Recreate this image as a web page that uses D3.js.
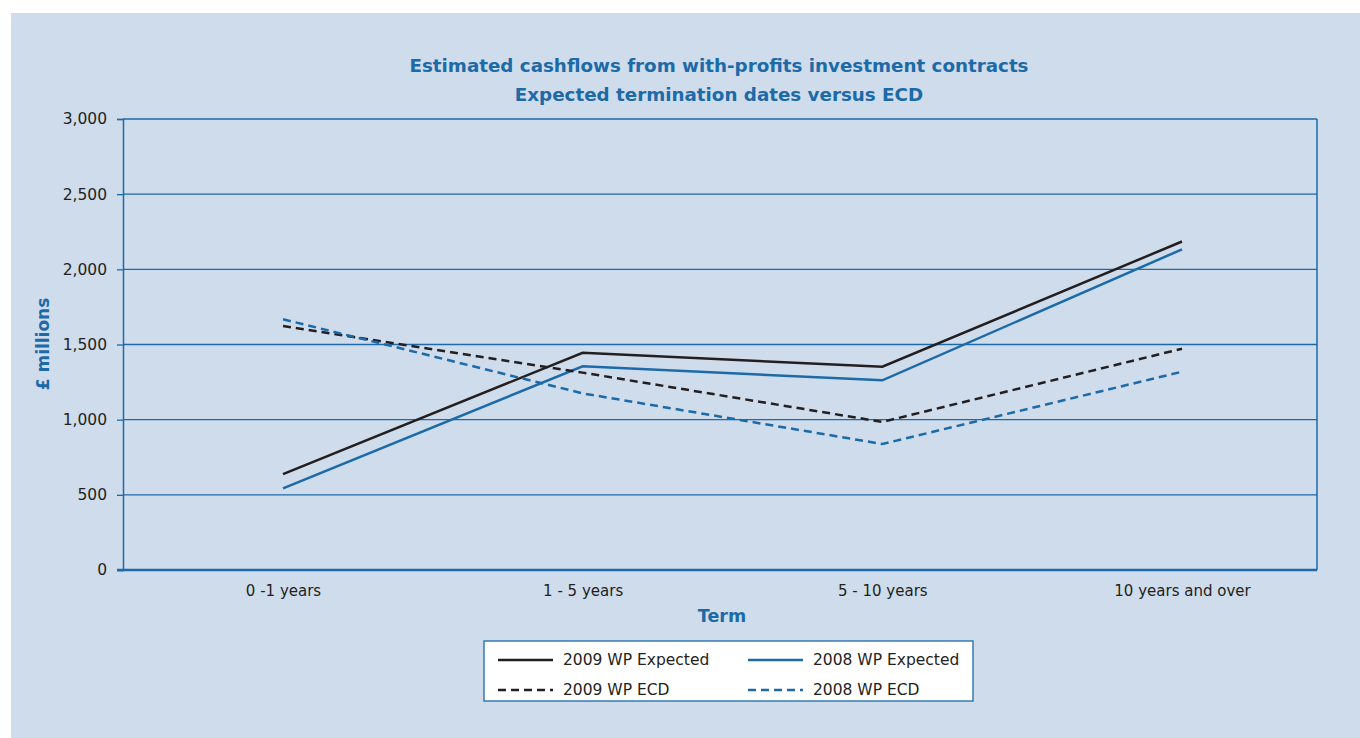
<!DOCTYPE html>
<html>
<head>
<meta charset="utf-8">
<script src="https://cdn.jsdelivr.net/npm/d3@7"></script>
<style>
  body { margin: 0; background: #ffffff; }
  svg { display: block; font-family: "DejaVu Sans", Verdana, sans-serif; }
</style>
</head>
<body>
<div id="chart"></div>
<script>
// categories and series
var terms = ["0 -1 years", "1 - 5 years", "5 - 10 years", "10 years and over"];
var wp2009Expected = [638, 1445, 1352, 2185];
var wp2008Expected = [543, 1355, 1262, 2133];
var wp2009ECD = [1623, 1313, 985, 1472];
var wp2008ECD = [1668, 1175, 838, 1319];
var yTicks = [0, 500, 1000, 1500, 2000, 2500, 3000];

var blue = "#1c6aa8";
var dark = "#231f20";

var series = [
  {name: "2009 WP Expected", values: wp2009Expected, color: dark, dash: null},
  {name: "2008 WP Expected", values: wp2008Expected, color: blue, dash: null},
  {name: "2009 WP ECD", values: wp2009ECD, color: dark, dash: "8,5"},
  {name: "2008 WP ECD", values: wp2008ECD, color: blue, dash: "8,5"}
];

var W = 1360, H = 738;
var plot = {left: 123, right: 1317, top: 119, bottom: 570};

var svg = d3.select("#chart").append("svg")
    .attr("width", W)
    .attr("height", H);

// panel background
svg.append("rect")
    .attr("x", 11).attr("y", 13)
    .attr("width", W - 11).attr("height", H - 13)
    .attr("fill", "#cfdcec");

// title
var title = svg.append("text")
    .attr("text-anchor", "middle")
    .attr("fill", blue)
    .attr("font-weight", "bold")
    .attr("font-size", 18.3);
title.append("tspan").attr("x", 719).attr("y", 72)
    .text("Estimated cashflows from with-profits investment contracts");
title.append("tspan").attr("x", 719).attr("y", 101)
    .text("Expected termination dates versus ECD");

var x = d3.scalePoint()
    .domain(terms)
    .range([283, 1182]);

var y = d3.scaleLinear()
    .domain([0, 3000])
    .range([plot.bottom, plot.top]);

// gridlines
svg.append("g")
  .selectAll("line")
  .data(yTicks.filter(function(d){ return d > 0; }))
  .enter()
  .append("line")
    .attr("x1", plot.left).attr("x2", plot.right)
    .attr("y1", function(d){ return y(d); })
    .attr("y2", function(d){ return y(d); })
    .attr("stroke", blue)
    .attr("stroke-width", 1.3);

// y axis
var yAxis = d3.axisLeft(y)
    .tickValues(yTicks)
    .tickSize(6)
    .tickPadding(10)
    .tickFormat(d3.format(","));

var gy = svg.append("g")
    .attr("transform", "translate(" + plot.left + ",0)")
    .call(yAxis);
gy.select(".domain").attr("stroke", blue).attr("stroke-width", 1.5);
gy.selectAll(".tick line").attr("stroke", blue).attr("stroke-width", 1.3);
gy.selectAll(".tick text").attr("fill", dark).attr("font-size", 15.5)
    .attr("font-family", "DejaVu Sans, sans-serif");

// right border and bottom axis
svg.append("line")
    .attr("x1", plot.right).attr("x2", plot.right)
    .attr("y1", plot.top).attr("y2", plot.bottom)
    .attr("stroke", blue).attr("stroke-width", 1.5);

var xAxis = d3.axisBottom(x).tickSize(0).tickPadding(15);
var gx = svg.append("g")
    .attr("transform", "translate(0," + plot.bottom + ")")
    .call(xAxis);
gx.select(".domain").remove();
gx.selectAll(".tick text").attr("fill", dark).attr("font-size", 15)
    .attr("font-family", "DejaVu Sans, sans-serif");

svg.append("line")
    .attr("x1", plot.left - 6).attr("x2", plot.right)
    .attr("y1", plot.bottom).attr("y2", plot.bottom)
    .attr("stroke", blue).attr("stroke-width", 2.5);

// axis titles
svg.append("text")
    .attr("transform", "translate(49,344) rotate(-90)")
    .attr("text-anchor", "middle")
    .attr("fill", blue).attr("font-weight", "bold").attr("font-size", 17)
    .text("£ millions");

svg.append("text")
    .attr("x", 722).attr("y", 622)
    .attr("text-anchor", "middle")
    .attr("fill", blue).attr("font-weight", "bold").attr("font-size", 17.5)
    .text("Term");

// lines
var line = d3.line()
    .x(function(d, i){ return x(terms[i]); })
    .y(function(d){ return y(d); });

svg.append("g")
  .selectAll("path")
  .data(series)
  .enter()
  .append("path")
    .attr("d", function(d){ return line(d.values); })
    .attr("fill", "none")
    .attr("stroke", function(d){ return d.color; })
    .attr("stroke-width", 2.5)
    .attr("stroke-dasharray", function(d){ return d.dash; });

// legend
var legend = svg.append("g");
legend.append("rect")
    .attr("x", 484).attr("y", 641)
    .attr("width", 489).attr("height", 60)
    .attr("fill", "#ffffff")
    .attr("stroke", blue).attr("stroke-width", 1.3);

var items = legend.selectAll("g.item")
    .data(series)
    .enter()
    .append("g")
    .attr("class", "item")
    .attr("transform", function(d, i){
      return "translate(" + (498 + (i % 2) * 250) + "," + (656 + Math.floor(i / 2) * 30) + ")";
    });

items.append("line")
    .attr("x1", 0).attr("x2", 55)
    .attr("y1", 4).attr("y2", 4)
    .attr("stroke", function(d){ return d.color; })
    .attr("stroke-width", 2.5)
    .attr("stroke-dasharray", function(d){ return d.dash; });

items.append("text")
    .attr("x", 65).attr("y", 9)
    .attr("fill", dark).attr("font-size", 15.5)
    .text(function(d){ return d.name; });
</script>
</body>
</html>
